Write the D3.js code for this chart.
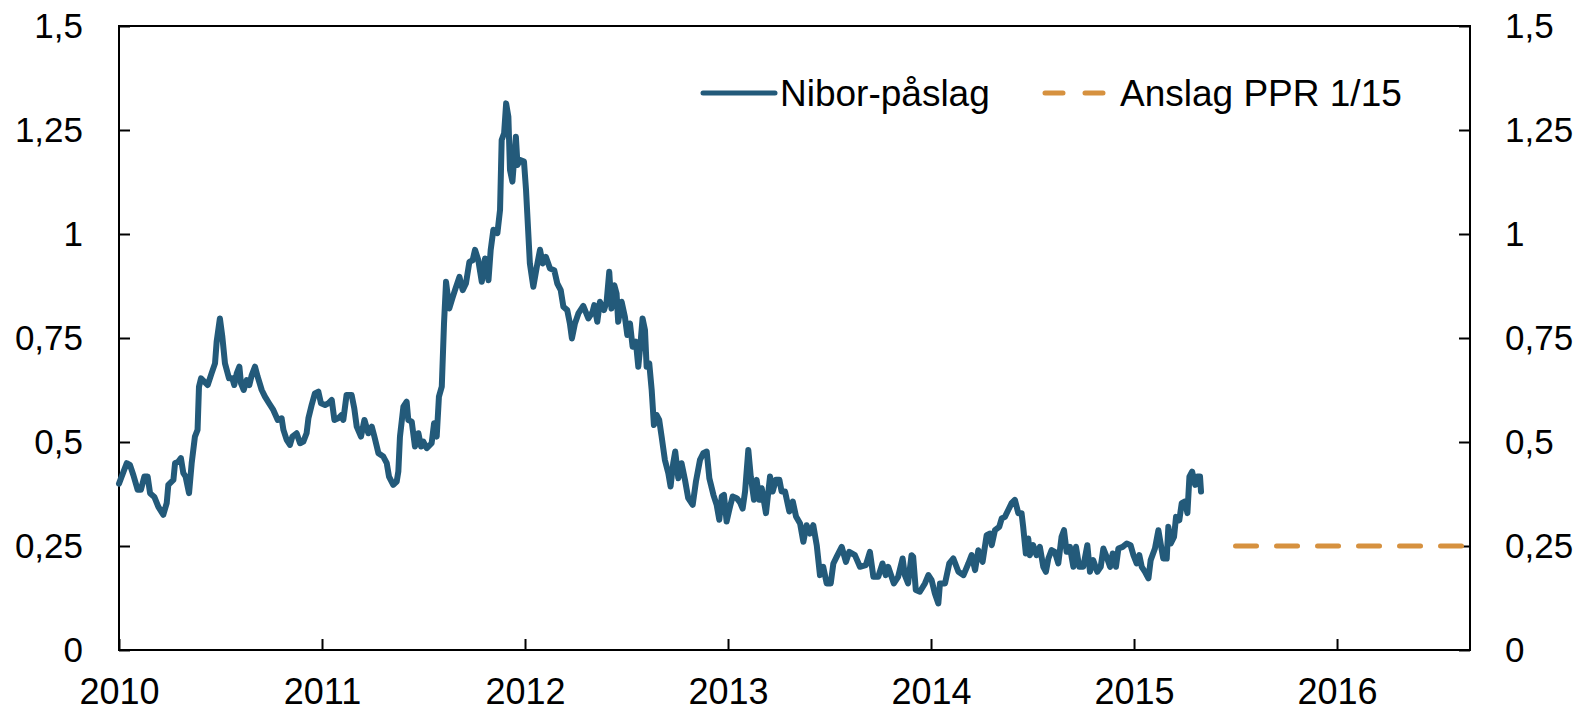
<!DOCTYPE html>
<html>
<head>
<meta charset="utf-8">
<script src="https://cdn.jsdelivr.net/npm/d3@7"></script>
<style>
  body { margin: 0; background: #fff; }
  text { font-family: "Liberation Sans", Arial, sans-serif; fill: #000; }
</style>
</head>
<body>
<div id="chart"></div>
<script>
// tick labels
var years = [2010, 2011, 2012, 2013, 2014, 2015, 2016];
var yTicks = [0, 0.25, 0.5, 0.75, 1, 1.25, 1.5];

// Nibor-påslag (decimal years)
var dates = [
  2010.000, 2010.038, 2010.054, 2010.071, 2010.092, 2010.108, 2010.125, 2010.141, 2010.153, 2010.174,
  2010.194, 2010.218, 2010.235, 2010.243, 2010.268, 2010.276, 2010.292, 2010.305, 2010.317, 2010.328,
  2010.345, 2010.358, 2010.374, 2010.387, 2010.394, 2010.404, 2010.420, 2010.437, 2010.456, 2010.473,
  2010.481, 2010.497, 2010.509, 2010.522, 2010.542, 2010.558, 2010.568, 2010.580, 2010.593, 2010.601,
  2010.614, 2010.629, 2010.642, 2010.654, 2010.670, 2010.683, 2010.703, 2010.719, 2010.739, 2010.760,
  2010.782, 2010.801, 2010.810, 2010.826, 2010.842, 2010.854, 2010.875, 2010.892, 2010.908, 2010.924,
  2010.933, 2010.949, 2010.965, 2010.982, 2010.995, 2011.015, 2011.031, 2011.048, 2011.061, 2011.080,
  2011.097, 2011.105, 2011.121, 2011.146, 2011.159, 2011.171, 2011.192, 2011.209, 2011.228, 2011.245,
  2011.258, 2011.278, 2011.302, 2011.319, 2011.330, 2011.351, 2011.368, 2011.376, 2011.384, 2011.401,
  2011.417, 2011.425, 2011.442, 2011.458, 2011.475, 2011.488, 2011.499, 2011.516, 2011.540, 2011.552,
  2011.565, 2011.576, 2011.590, 2011.601, 2011.611, 2011.627, 2011.642, 2011.655, 2011.677, 2011.693,
  2011.709, 2011.726, 2011.742, 2011.754, 2011.770, 2011.787, 2011.803, 2011.820, 2011.831, 2011.844,
  2011.864, 2011.877, 2011.885, 2011.897, 2011.907, 2011.918, 2011.926, 2011.938, 2011.955, 2011.963,
  2011.976, 2011.995, 2012.005, 2012.011, 2012.024, 2012.041, 2012.061, 2012.074, 2012.087, 2012.103,
  2012.123, 2012.144, 2012.159, 2012.176, 2012.189, 2012.208, 2012.221, 2012.231, 2012.246, 2012.263,
  2012.287, 2012.312, 2012.333, 2012.341, 2012.356, 2012.369, 2012.389, 2012.402, 2012.415, 2012.426,
  2012.440, 2012.451, 2012.459, 2012.476, 2012.492, 2012.504, 2012.517, 2012.530, 2012.546, 2012.558,
  2012.569, 2012.579, 2012.591, 2012.599, 2012.612, 2012.624, 2012.635, 2012.648, 2012.661, 2012.673,
  2012.689, 2012.706, 2012.717, 2012.730, 2012.740, 2012.755, 2012.771, 2012.788, 2012.804, 2012.826,
  2012.842, 2012.862, 2012.878, 2012.895, 2012.908, 2012.928, 2012.944, 2012.957, 2012.969, 2012.980,
  2012.993, 2013.010, 2013.023, 2013.043, 2013.059, 2013.072, 2013.084, 2013.100, 2013.112, 2013.128,
  2013.141, 2013.154, 2013.166, 2013.187, 2013.207, 2013.220, 2013.236, 2013.253, 2013.264, 2013.281,
  2013.302, 2013.319, 2013.335, 2013.355, 2013.371, 2013.387, 2013.404, 2013.420, 2013.437, 2013.453,
  2013.469, 2013.486, 2013.506, 2013.519, 2013.535, 2013.560, 2013.581, 2013.597, 2013.625, 2013.650,
  2013.679, 2013.699, 2013.716, 2013.740, 2013.761, 2013.777, 2013.789, 2013.817, 2013.838, 2013.860,
  2013.871, 2013.887, 2013.904, 2013.912, 2013.925, 2013.945, 2013.970, 2013.987, 2014.003, 2014.019,
  2014.036, 2014.044, 2014.069, 2014.090, 2014.110, 2014.135, 2014.160, 2014.184, 2014.200, 2014.217,
  2014.233, 2014.254, 2014.274, 2014.291, 2014.299, 2014.315, 2014.336, 2014.348, 2014.364, 2014.381,
  2014.397, 2014.413, 2014.430, 2014.446, 2014.454, 2014.467, 2014.479, 2014.487, 2014.503, 2014.520,
  2014.536, 2014.553, 2014.566, 2014.578, 2014.594, 2014.610, 2014.627, 2014.643, 2014.655, 2014.668,
  2014.684, 2014.701, 2014.714, 2014.730, 2014.750, 2014.770, 2014.783, 2014.799, 2014.819, 2014.836,
  2014.849, 2014.865, 2014.882, 2014.895, 2014.911, 2014.923, 2014.944, 2014.964, 2014.983, 2014.997,
  2015.013, 2015.026, 2015.038, 2015.054, 2015.071, 2015.082, 2015.103, 2015.120, 2015.131, 2015.144,
  2015.161, 2015.169, 2015.181, 2015.197, 2015.207, 2015.223, 2015.235, 2015.251, 2015.263, 2015.273,
  2015.286, 2015.301, 2015.312, 2015.325, 2015.330
];
var nibor = [
  0.400, 0.449, 0.445, 0.420, 0.385, 0.385, 0.417, 0.417, 0.377, 0.368,
  0.344, 0.325, 0.353, 0.397, 0.409, 0.449, 0.453, 0.461, 0.425, 0.417,
  0.377, 0.449, 0.513, 0.529, 0.633, 0.653, 0.645, 0.637, 0.665, 0.689,
  0.741, 0.797, 0.753, 0.689, 0.653, 0.653, 0.637, 0.665, 0.681, 0.641,
  0.625, 0.649, 0.637, 0.661, 0.681, 0.657, 0.625, 0.609, 0.593, 0.577,
  0.553, 0.557, 0.529, 0.505, 0.493, 0.513, 0.521, 0.497, 0.501, 0.521,
  0.557, 0.589, 0.617, 0.621, 0.593, 0.589, 0.593, 0.601, 0.553, 0.557,
  0.565, 0.553, 0.613, 0.613, 0.581, 0.537, 0.513, 0.553, 0.521, 0.537,
  0.513, 0.473, 0.465, 0.449, 0.417, 0.397, 0.405, 0.429, 0.513, 0.585,
  0.597, 0.553, 0.549, 0.489, 0.521, 0.489, 0.501, 0.485, 0.497, 0.545,
  0.513, 0.609, 0.633, 0.785, 0.885, 0.821, 0.845, 0.865, 0.897, 0.865,
  0.881, 0.933, 0.937, 0.962, 0.937, 0.885, 0.941, 0.889, 0.962, 1.010,
  1.002, 1.058, 1.226, 1.242, 1.314, 1.282, 1.154, 1.126, 1.234, 1.166,
  1.178, 1.174, 1.106, 1.050, 0.929, 0.873, 0.929, 0.962, 0.929, 0.945,
  0.917, 0.913, 0.881, 0.865, 0.825, 0.817, 0.785, 0.749, 0.785, 0.809,
  0.827, 0.797, 0.813, 0.829, 0.789, 0.837, 0.817, 0.837, 0.909, 0.821,
  0.877, 0.857, 0.789, 0.837, 0.801, 0.757, 0.785, 0.729, 0.741, 0.681,
  0.737, 0.797, 0.769, 0.681, 0.689, 0.625, 0.541, 0.565, 0.553, 0.513,
  0.457, 0.425, 0.393, 0.449, 0.477, 0.413, 0.449, 0.409, 0.365, 0.349,
  0.405, 0.457, 0.473, 0.477, 0.413, 0.373, 0.349, 0.313, 0.369, 0.373,
  0.309, 0.345, 0.369, 0.365, 0.355, 0.340, 0.381, 0.481, 0.417, 0.361,
  0.409, 0.361, 0.389, 0.329, 0.417, 0.381, 0.409, 0.409, 0.381, 0.381,
  0.333, 0.357, 0.321, 0.304, 0.260, 0.300, 0.280, 0.300, 0.252, 0.180,
  0.200, 0.160, 0.160, 0.208, 0.224, 0.248, 0.212, 0.236, 0.228, 0.200,
  0.204, 0.236, 0.176, 0.176, 0.208, 0.180, 0.200, 0.160, 0.176, 0.220,
  0.180, 0.160, 0.228, 0.224, 0.144, 0.140, 0.160, 0.180, 0.168, 0.136,
  0.112, 0.160, 0.160, 0.208, 0.220, 0.188, 0.180, 0.208, 0.228, 0.192,
  0.240, 0.212, 0.276, 0.280, 0.252, 0.288, 0.296, 0.316, 0.320, 0.337,
  0.353, 0.361, 0.329, 0.329, 0.296, 0.232, 0.268, 0.228, 0.252, 0.228,
  0.248, 0.200, 0.188, 0.220, 0.240, 0.236, 0.208, 0.272, 0.288, 0.236,
  0.248, 0.200, 0.248, 0.200, 0.200, 0.252, 0.188, 0.216, 0.188, 0.200,
  0.244, 0.224, 0.200, 0.232, 0.200, 0.244, 0.248, 0.256, 0.252, 0.228,
  0.208, 0.228, 0.200, 0.188, 0.172, 0.216, 0.244, 0.288, 0.256, 0.220,
  0.220, 0.296, 0.256, 0.272, 0.320, 0.312, 0.353, 0.357, 0.329, 0.417,
  0.429, 0.397, 0.417, 0.417, 0.381
];

// Anslag PPR 1/15
var anslagDates = [2015.5, 2016.66];
var anslag = [0.25, 0.25];

var blue = '#235a7a';
var orange = '#d6913f';

var W = 1579, H = 713;
var margin = {top: 26, right: 109, bottom: 63, left: 119};
var width = W - margin.left - margin.right;
var height = H - margin.top - margin.bottom;

var svg = d3.select('#chart').append('svg')
    .attr('width', W)
    .attr('height', H);

var g = svg.append('g')
    .attr('transform', 'translate(' + margin.left + ',' + margin.top + ')');

var x = d3.scaleLinear().domain([2010, 2016.655]).range([0, width]);
var y = d3.scaleLinear().domain([0, 1.5]).range([height, 0]);

var no = d3.formatLocale({decimal: ',', thousands: ' ', grouping: [3], currency: ['', ' kr']});
var fmt = function(d) { return no.format('~g')(d); };

function styleAxis(size) {
  return function(sel) {
    sel.select('.domain').remove();
    sel.selectAll('line').attr('stroke', '#000').attr('stroke-width', 2);
    sel.selectAll('text').attr('font-size', size).attr('font-family', '"Liberation Sans", Arial, sans-serif');
  };
}

g.append('g')
    .call(d3.axisLeft(y).tickValues(yTicks).tickFormat(fmt).tickSize(-11).tickPadding(36))
    .call(styleAxis(35));

g.append('g')
    .attr('transform', 'translate(' + width + ',0)')
    .call(d3.axisRight(y).tickValues(yTicks).tickFormat(fmt).tickSize(-11).tickPadding(35))
    .call(styleAxis(35));

g.append('g')
    .attr('transform', 'translate(0,' + height + ')')
    .call(d3.axisBottom(x).tickValues(years).tickFormat(d3.format('d')).tickSize(-11).tickPadding(28))
    .call(styleAxis(36));

// frame
g.append('rect')
    .attr('width', width)
    .attr('height', height)
    .attr('fill', 'none')
    .attr('stroke', '#000')
    .attr('stroke-width', 2);

var line = d3.line()
    .x(function(d) { return x(d[0]); })
    .y(function(d) { return y(d[1]); });

g.append('path')
    .datum(d3.zip(dates, nibor))
    .attr('d', line)
    .attr('fill', 'none')
    .attr('stroke', blue)
    .attr('stroke-width', 6)
    .attr('stroke-linejoin', 'round')
    .attr('stroke-linecap', 'round');

g.append('path')
    .datum(d3.zip(anslagDates, anslag))
    .attr('d', line)
    .attr('fill', 'none')
    .attr('stroke', orange)
    .attr('stroke-width', 5)
    .attr('stroke-linecap', 'round')
    .attr('stroke-dasharray', '21,20');

// legend
var legend = svg.append('g').attr('transform', 'translate(0,93)');
legend.append('line')
    .attr('x1', 703).attr('x2', 775)
    .attr('stroke', blue).attr('stroke-width', 5).attr('stroke-linecap', 'round');
legend.append('text')
    .attr('x', 780).attr('dy', '0.35em')
    .attr('font-size', 37)
    .text('Nibor-påslag');
legend.append('line')
    .attr('x1', 1045).attr('x2', 1105)
    .attr('stroke', orange).attr('stroke-width', 5).attr('stroke-linecap', 'round')
    .attr('stroke-dasharray', '18,22');
legend.append('text')
    .attr('x', 1120).attr('dy', '0.35em')
    .attr('font-size', 37)
    .text('Anslag PPR 1/15');
</script>
</body>
</html>
